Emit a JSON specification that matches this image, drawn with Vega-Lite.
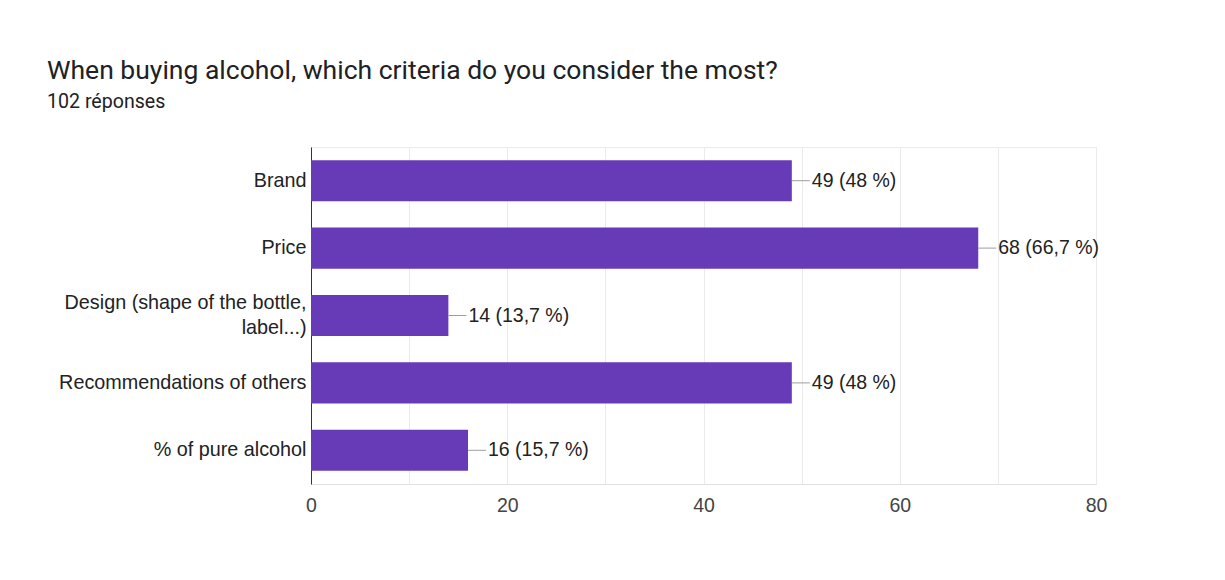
{
  "$schema": "https://vega.github.io/schema/vega-lite/v6.json",
  "width": 785,
  "height": 337,
  "autosize": {"type": "none"},
  "padding": {"left": 311, "top": 147, "right": 129, "bottom": 96},
  "background": "white",
  "title": {
    "text": "When buying alcohol, which criteria do you consider the most?",
    "subtitle": "102 réponses",
    "anchor": "start",
    "frame": "group",
    "dx": -264,
    "font": "Roboto",
    "fontSize": 26.5,
    "fontWeight": "normal",
    "color": "#202124",
    "subtitleFont": "Roboto",
    "subtitleFontSize": 19.6,
    "subtitleColor": "#202124",
    "subtitlePadding": 9,
    "offset": 35
  },
  "config": {
    "view": {"stroke": "#ebebeb"}
  },
  "data": {
    "values": [
      {"criterion": "Brand", "count": 49, "label": "49 (48 %)"},
      {"criterion": "Price", "count": 68, "label": "68 (66,7 %)"},
      {"criterion": "Design (shape of the bottle, label...)", "count": 14, "label": "14 (13,7 %)"},
      {"criterion": "Recommendations of others", "count": 49, "label": "49 (48 %)"},
      {"criterion": "% of pure alcohol", "count": 16, "label": "16 (15,7 %)"}
    ]
  },
  "encoding": {
    "y": {
      "field": "criterion",
      "type": "nominal",
      "sort": null,
      "scale": {"paddingInner": 0.39, "paddingOuter": 0.195},
      "axis": {
        "title": null,
        "ticks": false,
        "grid": false,
        "domainColor": "#333333",
        "labelPadding": 5,
        "labelFont": "Liberation Sans",
        "labelFontSize": 19.8,
        "labelColor": "#222222",
        "labelLimit": 0,
        "labelLineHeight": 25,
        "labelOffset": {"condition": {"test": "datum.value == 'Design (shape of the bottle, label...)'", "value": -12.5}, "value": 0},
        "labelExpr": "datum.label == 'Design (shape of the bottle, label...)' ? ['Design (shape of the bottle,', 'label...)'] : datum.label"
      }
    }
  },
  "layer": [
    {
      "mark": {"type": "bar", "color": "#673ab7"},
      "encoding": {
        "x": {
          "field": "count",
          "type": "quantitative",
          "scale": {"domain": [0, 80], "nice": false},
          "axis": {
            "title": null,
            "values": [0, 10, 20, 30, 40, 50, 60, 70, 80],
            "labelExpr": "datum.value % 20 == 0 ? datum.label : ''",
            "labelFlush": false,
            "grid": true,
            "gridColor": "#ebebeb",
            "ticks": false,
            "domainColor": "#e0e0e0",
            "labelPadding": 12,
            "labelFont": "Liberation Sans",
            "labelFontSize": 19.5,
            "labelColor": "#444444"
          }
        }
      }
    },
    {
      "mark": {"type": "rule", "color": "#9e9e9e", "x2Offset": 18},
      "encoding": {
        "x": {"field": "count", "type": "quantitative"},
        "x2": {"field": "count"}
      }
    },
    {
      "mark": {"type": "text", "align": "left", "dx": 20, "font": "Liberation Sans", "fontSize": 19.5, "color": "#222222"},
      "encoding": {
        "x": {"field": "count", "type": "quantitative"},
        "text": {"field": "label"}
      }
    }
  ]
}
